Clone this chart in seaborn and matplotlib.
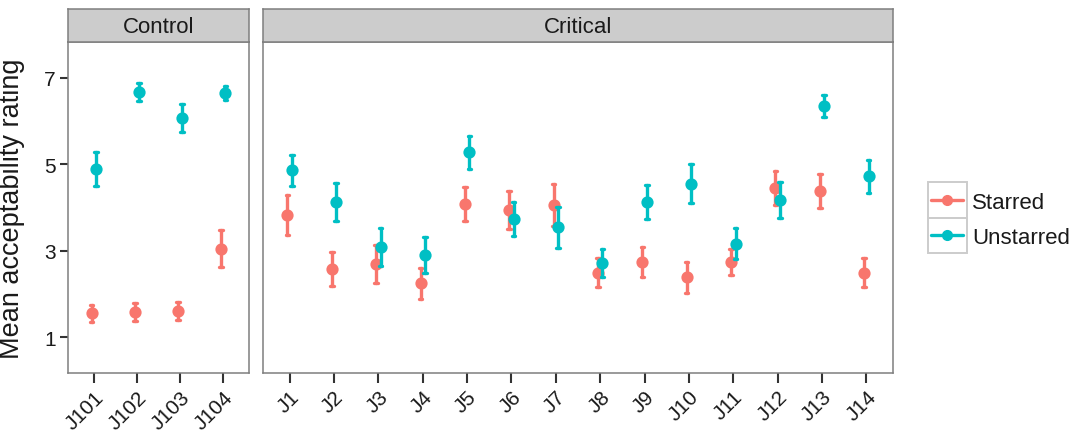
import matplotlib
matplotlib.use("Agg")
import matplotlib.pyplot as plt
from matplotlib.lines import Line2D
from matplotlib.patches import Rectangle
import pandas as pd
import seaborn as sns

# ---- data: item means and standard errors per condition ----
control_items = ["J101", "J102", "J103", "J104"]
critical_items = ["J1", "J2", "J3", "J4", "J5", "J6", "J7",
                  "J8", "J9", "J10", "J11", "J12", "J13", "J14"]
conditions = ["Starred", "Unstarred"]

control_starred_mean = [1.55, 1.58, 1.61, 3.05]
control_starred_se = [0.19, 0.20, 0.21, 0.43]
control_unstarred_mean = [4.89, 6.67, 6.07, 6.65]
control_unstarred_se = [0.40, 0.20, 0.32, 0.17]

critical_starred_mean = [3.83, 2.58, 2.69, 2.25, 4.08, 3.94, 4.06,
                         2.49, 2.74, 2.39, 2.74, 4.45, 4.38, 2.49]
critical_starred_se = [0.46, 0.40, 0.44, 0.36, 0.40, 0.44, 0.48,
                       0.33, 0.34, 0.36, 0.30, 0.39, 0.39, 0.33]
critical_unstarred_mean = [4.86, 4.13, 3.08, 2.90, 5.28, 3.73, 3.54,
                           2.72, 4.13, 4.55, 3.16, 4.18, 6.35, 4.72]
critical_unstarred_se = [0.36, 0.44, 0.44, 0.42, 0.38, 0.40, 0.47,
                         0.33, 0.39, 0.45, 0.36, 0.42, 0.25, 0.38]

y_ticks = [1, 3, 5, 7]
palette = {"Starred": "#F8766D", "Unstarred": "#00BFC4"}


def interval_frame(items, series):
    """Long table holding the lower and upper end of each mean +/- SE."""
    rows = []
    for cond, (means, ses) in series.items():
        for item, m, s in zip(items, means, ses):
            rows.append({"item": item, "condition": cond, "rating": m - s})
            rows.append({"item": item, "condition": cond, "rating": m + s})
    return pd.DataFrame(rows)


df_control = interval_frame(control_items, {
    "Starred": (control_starred_mean, control_starred_se),
    "Unstarred": (control_unstarred_mean, control_unstarred_se)})
df_critical = interval_frame(critical_items, {
    "Starred": (critical_starred_mean, critical_starred_se),
    "Unstarred": (critical_unstarred_mean, critical_unstarred_se)})

sns.set_theme(style="white")
plt.rcParams["font.family"] = ["Liberation Sans", "DejaVu Sans"]

W, H = 1079, 439
fig = plt.figure(figsize=(W / 100, H / 100), dpi=100)

panel_bottom, panel_top = 374, 43
strip_top = 10
panels = [
    (68, 249, "Control", control_items, df_control),
    (263, 893, "Critical", critical_items, df_critical),
]

border = "#7F7F7F"
ink = "#1A1A1A"
tick_fs = 15
for i, (x0, x1, title, items, df) in enumerate(panels):
    ax = fig.add_axes([x0 / W, 1 - panel_bottom / H, (x1 - x0) / W,
                       (panel_bottom - panel_top) / H])
    sns.pointplot(
        data=df, x="item", y="rating", hue="condition",
        order=items, hue_order=conditions, palette=palette,
        estimator="mean", errorbar=lambda v: (v.min(), v.max()),
        dodge=0.1, linestyle="none", markers="o", markersize=7,
        linewidth=2.4, capsize=0.08, err_kws={"linewidth": 2.4},
        legend=False, ax=ax,
    )
    ax.set_xlim(-0.6, len(items) - 1 + 0.6)
    ax.set_ylim(0.17, 7.83)
    ax.set_yticks(y_ticks)
    ax.set_yticklabels([str(t) for t in y_ticks], fontsize=tick_fs)
    ax.set_xlabel("")
    ax.set_ylabel("")
    for sp in ax.spines.values():
        sp.set_color(border)
        sp.set_linewidth(1.1)
    ax.set_xticks(range(len(items)))
    ax.set_xticklabels(items, rotation=45, ha="right", va="top",
                       rotation_mode="anchor", fontsize=tick_fs, color=ink)
    ax.tick_params(axis="x", bottom=True, length=7, width=1.5,
                   color="#333333", pad=3)
    if i == 0:
        ax.tick_params(axis="y", left=True, length=6, width=1.5,
                       color="#333333", pad=3, labelcolor=ink)
        ax.set_ylabel("Mean acceptability rating", fontsize=19.5,
                      color=ink)
        ax.yaxis.set_label_coords(-0.235, 0.5)
    else:
        ax.tick_params(axis="y", left=False, labelleft=False)

    # facet strip
    sax = fig.add_axes([x0 / W, 1 - panel_top / H, (x1 - x0) / W,
                        (panel_top - strip_top) / H])
    sax.set_facecolor("#CCCCCC")
    sax.set_xticks([])
    sax.set_yticks([])
    for sp in sax.spines.values():
        sp.set_color(border)
        sp.set_linewidth(1.1)
    sax.text(0.5, 0.47, title, ha="center", va="center", fontsize=16,
             color=ink, transform=sax.transAxes)

# legend with boxed keys
handles = [Line2D([], [], color=palette[c], marker="o", markersize=7,
                  linewidth=2.4) for c in conditions]
leg = fig.legend(handles, conditions, loc="center left",
                 bbox_to_anchor=(920 / W, 1 - 221 / H), frameon=False,
                 fontsize=16, handlelength=1.45, handletextpad=0.4,
                 labelspacing=0.65, borderpad=0.0)
for t in leg.get_texts():
    t.set_color(ink)

fig.canvas.draw()
renderer = fig.canvas.get_renderer()
inv = fig.transFigure.inverted()
centers = []
for h in leg.legend_handles:
    bb = h.get_window_extent(renderer)
    centers.append(((bb.x0 + bb.x1) / 2, (bb.y0 + bb.y1) / 2))
step = abs(centers[0][1] - centers[1][1])
cell_w = 39
for cx, cy in centers:
    (fx0, fy0) = inv.transform((cx - cell_w / 2, cy - step / 2))
    (fx1, fy1) = inv.transform((cx + cell_w / 2, cy + step / 2))
    fig.patches.append(Rectangle((fx0, fy0), fx1 - fx0, fy1 - fy0,
                                 transform=fig.transFigure, fill=False,
                                 edgecolor="#CCCCCC", linewidth=1.4))

fig.savefig("out.png", dpi=100)
